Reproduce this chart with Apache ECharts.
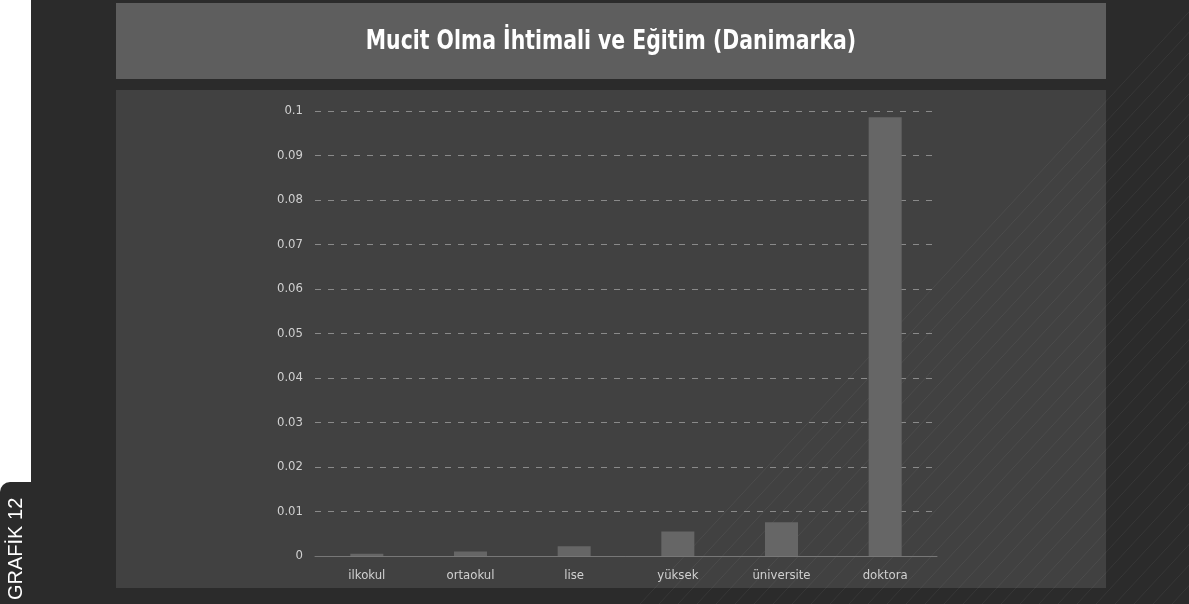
<!DOCTYPE html>
<html lang="tr">
<head>
<meta charset="utf-8" />
<title>Mucit Olma İhtimali ve Eğitim</title>
<style>
  html, body { margin: 0; padding: 0; background: #fff; }
  #chart { width: 1189px; height: 604px; }
</style>
</head>
<body>
<div id="chart"></div>
<script src="https://cdn.jsdelivr.net/npm/echarts@6/dist/echarts.min.js"></script>
<script>
// veriler
var egitim = ['ilkokul', 'ortaokul', 'lise', 'yüksek', 'üniversite', 'doktora'];
var ihtimal = [0.0005, 0.001, 0.0022, 0.0055, 0.0076, 0.0986];
var baslik = 'Mucit Olma İhtimali ve Eğitim (Danimarka)';
var etiket = 'GRAFİK 12';

var font = '"DejaVu Sans Condensed", "DejaVu Sans", sans-serif';
var chart = echarts.init(document.getElementById('chart'));

// arka plandaki ince çapraz çizgiler (süs)
var cizgiler = [];
for (var i = 0; i < 30; i++) {
  var x0 = 640 + i * 19;
  cizgiler.push({
    type: 'line', silent: true, z: -5,
    shape: { x1: x0, y1: 604, x2: x0 + 560, y2: 0 },
    style: { stroke: 'rgba(255,255,255,0.06)', lineWidth: 1 }
  });
}

var option = {
  backgroundColor: '#fff',
  animation: false,
  graphic: [
    { type: 'rect', z: -10, silent: true, shape: { x: 31, y: 0, width: 1158, height: 604 }, style: { fill: '#2b2b2b' } },
    { type: 'rect', z: -8, silent: true, shape: { x: 116, y: 90, width: 990, height: 498 }, style: { fill: '#414141' } },
    { type: 'rect', z: -8, silent: true, shape: { x: 116, y: 3, width: 990, height: 76 }, style: { fill: '#5e5e5e' } },
    { type: 'rect', z: -8, silent: true, shape: { x: 0, y: 482, width: 31, height: 122, r: [10, 0, 0, 0] }, style: { fill: '#2b2b2b' } },
    {
      type: 'text', silent: true, z: 10,
      x: 16, y: 600, rotation: Math.PI / 2,
      style: { text: etiket, fill: '#fff', font: '20px "Liberation Sans", sans-serif', align: 'left', verticalAlign: 'middle' }
    },
    {
      type: 'text', silent: true, z: 10,
      x: 611, y: 42, scaleX: 0.84,
      style: { text: baslik, fill: '#fff', font: 'bold 27px ' + font, align: 'center', verticalAlign: 'middle' }
    }
  ].concat(cizgiler),
  grid: { left: 315, right: 252, top: 111, bottom: 48, containLabel: false },
  xAxis: {
    type: 'category',
    data: egitim,
    axisLine: { lineStyle: { color: '#777' } },
    axisTick: { show: false },
    axisLabel: { color: '#d0d0d0', fontSize: 13, fontFamily: font, margin: 13 }
  },
  yAxis: {
    type: 'value',
    min: 0, max: 0.1, interval: 0.01,
    axisLine: { show: false },
    axisTick: { show: false },
    axisLabel: { color: '#d0d0d0', fontSize: 13, fontFamily: font, margin: 12 },
    splitLine: { lineStyle: { color: '#8a8a8a', type: [6, 7], width: 1 } }
  },
  series: [{
    type: 'bar',
    data: ihtimal,
    barWidth: 33,
    itemStyle: { color: '#666' }
  }]
};
chart.setOption(option);
</script>
</body>
</html>
